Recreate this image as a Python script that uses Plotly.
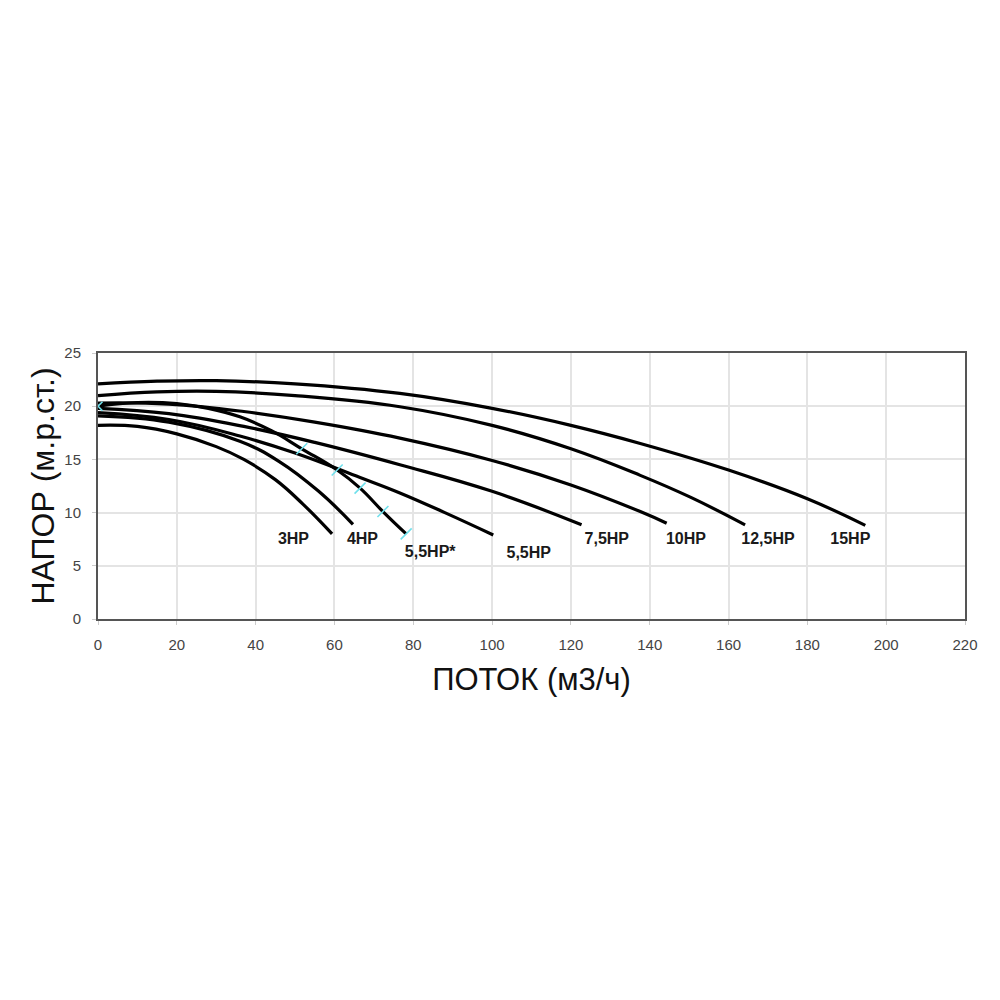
import plotly.graph_objects as go

# ---- data ----
hp3_x = [0, 10, 20, 30, 37, 45, 52, 59.4]
hp3_y = [18.2, 18.1, 17.4, 16.2, 15.0, 13.1, 10.8, 8.0]

hp4_x = [0, 18, 36, 46, 56, 64.7]
hp4_y = [19.1, 18.5, 16.7, 14.8, 12.0, 8.9]

hp55s_x = [0, 10, 20, 28, 36, 44, 51.7, 60.7, 66.5, 72.3, 78.2]
hp55s_y = [20.0, 20.35, 20.25, 19.8, 19.0, 17.7, 16.0, 14.0, 12.3, 10.1, 8.0]

hp55_x = [0, 18, 36, 50, 66.5, 76.6, 88, 100.3]
hp55_y = [19.4, 18.75, 17.2, 15.6, 13.3, 11.85, 10.0, 7.9]

hp75_x = [0, 18, 37, 55, 76.6, 100, 122.7]
hp75_y = [19.8, 19.3, 18.1, 16.6, 14.5, 12.0, 8.85]

hp10_x = [0, 18, 37, 55, 76.6, 100, 120, 137.6, 144.3]
hp10_y = [20.3, 20.2, 19.5, 18.5, 17.0, 14.9, 12.6, 10.1, 9.0]

hp125_x = [0, 15, 30, 50, 76.6, 100, 120, 137.6, 150.3, 164.2]
hp125_y = [21.0, 21.35, 21.4, 21.0, 19.95, 18.2, 16.0, 13.5, 11.45, 8.85]

hp15_x = [0, 15, 30, 50, 76.6, 100, 120, 137.6, 160, 180, 194.7]
hp15_y = [22.1, 22.35, 22.4, 22.1, 21.2, 19.8, 18.2, 16.5, 14.0, 11.3, 8.8]

marks_x = [0, 51.7, 60.7, 66.5, 72.3, 78.2]
marks_y = [20.0, 16.0, 14.0, 12.3, 10.1, 8.0]

labels = ["3HP", "4HP", "5,5HP*", "5,5HP", "7,5HP", "10HP", "12,5HP", "15HP"]
label_x = [49.6, 67.1, 84.3, 109.3, 129.1, 149.2, 170.0, 190.9]
label_y = [7.4, 7.4, 6.2, 6.1, 7.4, 7.4, 7.4, 7.4]

x_ticks = [0, 20, 40, 60, 80, 100, 120, 140, 160, 180, 200, 220]
y_ticks = [0, 5, 10, 15, 20, 25]

# ---- figure ----
fig = go.Figure()
series = [(hp3_x, hp3_y), (hp4_x, hp4_y), (hp55s_x, hp55s_y), (hp55_x, hp55_y),
          (hp75_x, hp75_y), (hp10_x, hp10_y), (hp125_x, hp125_y), (hp15_x, hp15_y)]
for (sx, sy), name in zip(series, labels):
    fig.add_trace(go.Scatter(x=sx, y=sy, mode="lines", name=name,
                             line=dict(color="black", width=3.2, shape="spline", smoothing=1.2),
                             showlegend=False, hoverinfo="skip"))

fig.add_trace(go.Scatter(x=marks_x[1:], y=marks_y[1:], mode="markers", showlegend=False,
                         marker=dict(symbol="line-ne", size=11, color="#6fe0ec",
                                     line=dict(color="#6fe0ec", width=1.6)),
                         hoverinfo="skip"))
fig.add_trace(go.Scatter(x=marks_x[:1], y=marks_y[:1], mode="markers", showlegend=False,
                         marker=dict(symbol="x-thin", size=9, color="#6fe0ec",
                                     line=dict(color="#6fe0ec", width=1.6)),
                         hoverinfo="skip"))

fig.add_trace(go.Scatter(x=label_x, y=label_y, mode="text",
                         text=["<b>%s</b>" % t for t in labels], showlegend=False,
                         textfont=dict(family="Liberation Sans, Arial, sans-serif", size=16,
                                       color="#1a1a1a"),
                         textposition="middle center", hoverinfo="skip"))

axis_common = dict(showgrid=True, gridcolor="#e4e4e4", gridwidth=1.5,
                   showline=True, linecolor="#555555", linewidth=2, mirror=True,
                   ticks="outside", ticklen=4, tickcolor="#cccccc",
                   tickfont=dict(family="Liberation Sans, Arial, sans-serif", size=15, color="#444444"),
                   zeroline=False)

fig.update_xaxes(range=[0, 220], tickvals=x_ticks, ticklabelstandoff=7, **axis_common,
                 title=dict(text="ПОТОК (м3/ч)", standoff=16,
                            font=dict(family="Liberation Sans, Arial, sans-serif",
                                      size=31, color="#111111")))
fig.update_yaxes(range=[0, 25], tickvals=y_ticks, ticklabelstandoff=8, **axis_common,
                 title=dict(text="НАПОР (м.р.ст.)", standoff=0,
                            font=dict(family="Liberation Sans, Arial, sans-serif",
                                      size=32, color="#111111")))

fig.update_layout(width=1000, height=1000, paper_bgcolor="white", plot_bgcolor="white",
                  margin=dict(l=90, r=43, t=345, b=389))

fig.write_html("out.html")
